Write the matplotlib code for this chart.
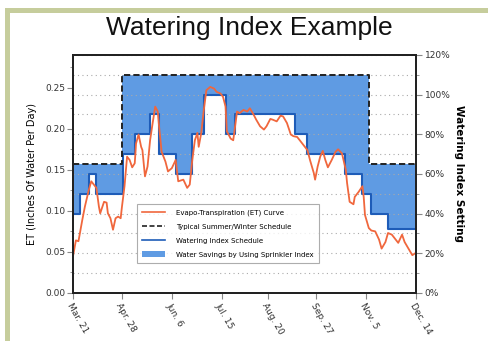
import numpy as np
import matplotlib
matplotlib.use("Agg")
import matplotlib.pyplot as plt
from matplotlib.lines import Line2D
from matplotlib.patches import Patch, Rectangle

# Evapo-transpiration curve (days since Mar. 21, inches of water per day)
et_days = [0, 2, 4, 7, 9, 12, 14, 16, 18, 20, 21, 24, 26, 27, 29, 31, 33, 35, 37, 38,
           40, 42, 44, 46, 48, 49, 51, 53, 54, 56, 58, 60, 62, 64, 66, 67, 69, 72, 74, 77,
           80, 82, 86, 89, 91, 93, 95, 97, 98, 100, 102, 104, 107, 110, 112, 115, 117, 119, 120, 123,
           125, 128, 130, 133, 136, 138, 141, 143, 146, 149, 151, 154, 156, 159, 162, 164, 167, 170, 172, 175,
           177, 180, 183, 185, 188, 189, 191, 193, 195, 197, 199, 202, 205, 207, 210, 213, 214, 216, 219, 220,
           223, 226, 227, 228, 231, 233, 236, 239, 241, 244, 246, 249, 252, 254, 257, 259, 262, 265, 268]
et_vals = [0.047, 0.064, 0.063, 0.089, 0.105, 0.125, 0.136, 0.132, 0.128, 0.105, 0.097, 0.111, 0.110, 0.097, 0.091, 0.077, 0.091, 0.093, 0.091, 0.105,
           0.130, 0.166, 0.162, 0.153, 0.158, 0.182, 0.193, 0.178, 0.174, 0.142, 0.154, 0.186, 0.207, 0.227, 0.221, 0.203, 0.172, 0.160, 0.148, 0.152,
           0.162, 0.136, 0.138, 0.128, 0.132, 0.162, 0.186, 0.195, 0.178, 0.195, 0.223, 0.247, 0.251, 0.249, 0.245, 0.243, 0.239, 0.227, 0.197, 0.188,
           0.186, 0.221, 0.219, 0.223, 0.221, 0.225, 0.217, 0.211, 0.203, 0.199, 0.203, 0.212, 0.211, 0.209, 0.216, 0.215, 0.207, 0.193, 0.191, 0.190,
           0.186, 0.180, 0.174, 0.162, 0.146, 0.138, 0.154, 0.166, 0.173, 0.162, 0.153, 0.162, 0.172, 0.175, 0.170, 0.150, 0.134, 0.111, 0.108, 0.117,
           0.123, 0.130, 0.117, 0.095, 0.079, 0.076, 0.075, 0.065, 0.054, 0.062, 0.073, 0.071, 0.065, 0.061, 0.071, 0.062, 0.054, 0.046, 0.049]

# Watering index schedule (percent), step changes
index_days = [0, 5, 12, 18, 39, 48, 60, 67, 80, 93, 102, 119, 126, 173, 183, 212, 226, 233, 246]
index_pct = [40, 50, 60, 50, 70, 80, 90, 70, 60, 80, 100, 80, 90, 80, 70, 60, 50, 40, 32]

# Typical summer/winter schedule (percent)
sched_days = [0, 38, 231]
sched_pct = [65, 110, 65]

end_day = 268
tick_days = [0, 38, 77, 116, 152, 190, 229, 268]
tick_labels = ["Mar. 21", "Apr. 28", "Jun. 6", "Jul. 15", "Aug. 20", "Sep. 27", "Nov. 5", "Dec. 14"]

ORANGE = "#f0673d"
BLUE_FILL = "#5f9be3"
BLUE_LINE = "#1e5cb8"


def step_values(days, vals, grid):
    idx = np.searchsorted(days, grid, side="right") - 1
    return np.asarray(vals)[idx]


grid = np.array(sorted(set(index_days + sched_days + [end_day])))
idx_grid = step_values(index_days, index_pct, grid)
sched_grid = step_values(sched_days, sched_pct, grid)

fig = plt.figure(figsize=(4.89, 3.41), dpi=100)
fig.patch.set_facecolor("white")

# sage border along top and left
fig.patches.append(Rectangle((5 / 489, 1 - 12.5 / 341), 1.0, 4.5 / 341, transform=fig.transFigure,
                             facecolor="#c6cd9c", edgecolor="none", zorder=0))
fig.patches.append(Rectangle((5 / 489, 0), 4.5 / 489, 1 - 8 / 341, transform=fig.transFigure,
                             facecolor="#c6cd9c", edgecolor="none", zorder=0))

ax = fig.add_axes([0.150, 0.141, 0.701, 0.698])
ax2 = ax.twinx()
# percent axis goes underneath so the ET curve sits on top
ax2.set_zorder(ax.get_zorder() - 1)
ax.patch.set_visible(False)

ax2.fill_between(grid, idx_grid, sched_grid, step="post", color=BLUE_FILL, linewidth=0)
ax2.plot(grid, idx_grid, drawstyle="steps-post", color=BLUE_LINE, linewidth=1.5)
ax2.plot(grid, sched_grid, drawstyle="steps-post", color="#222222", linewidth=1.4,
         linestyle=(0, (3.2, 1.6)))
ax2.set_ylim(0, 120)
ax2.set_yticks(np.arange(0, 121, 20))
ax2.set_yticks(np.arange(10, 120, 20), minor=True)
ax2.set_yticklabels([f"{v}%" for v in range(0, 121, 20)])
ax2.grid(True, which="both", axis="y", linestyle=(0, (1, 3)), color="#aaaaaa", linewidth=0.8)
ax2.set_ylabel("Watering Index Setting", rotation=270, labelpad=10, fontsize=7.5,
               fontweight="bold", family="DejaVu Sans")

ax.plot(et_days, et_vals, color=ORANGE, linewidth=1.3)
ax.set_xlim(0, end_day)
ax.set_ylim(0, 0.29)
ax.set_yticks(np.arange(0, 0.26, 0.05))
ax.set_yticks(np.arange(0.025, 0.29, 0.05), minor=True)
ax.set_yticklabels([f"{v:.2f}" for v in np.arange(0, 0.26, 0.05)])
ax.set_xticks(tick_days)
ax.set_xticklabels(tick_labels, rotation=-60, ha="left", va="top", rotation_mode="anchor")
ax.set_ylabel("ET (Inches Of Water Per Day)", fontsize=7, labelpad=6, family="DejaVu Sans")

for a in (ax, ax2):
    a.tick_params(which="major", length=4, width=0.8, color="#888888", labelsize=6.5,
                  labelcolor="#333333", pad=2)
    a.tick_params(which="minor", length=2.5, width=0.6, color="#888888")
    for s in a.spines.values():
        s.set_linewidth(1.4)
        s.set_color("#222222")

handles = [
    Line2D([], [], color=ORANGE, linewidth=1.2),
    Line2D([], [], color="#222222", linewidth=1.2, linestyle=(0, (3, 1.5))),
    Line2D([], [], color=BLUE_LINE, linewidth=1.2),
    Patch(facecolor=BLUE_FILL, edgecolor="none"),
]
labels = [
    "Evapo-Transpiration (ET) Curve",
    "Typical Summer/Winter Schedule",
    "Watering Index Schedule",
    "Water Savings by Using Sprinkler Index",
]
leg = ax.legend(handles, labels, loc="lower left", bbox_to_anchor=(0.175, 0.11),
                frameon=True, fancybox=False, edgecolor="#999999",
                handlelength=3.2, handleheight=1.0, labelspacing=1.05, borderpad=0.8,
                handletextpad=1.6, prop={"family": ["Liberation Sans Narrow", "DejaVu Sans"], "size": 5})
leg.get_frame().set_linewidth(0.8)

fig.text(249 / 489, 1 - 28 / 341, "Watering Index Example", ha="center", va="center",
         fontsize=19, family="Liberation Sans", color="#111111")

fig.savefig("out.png", dpi=100)
